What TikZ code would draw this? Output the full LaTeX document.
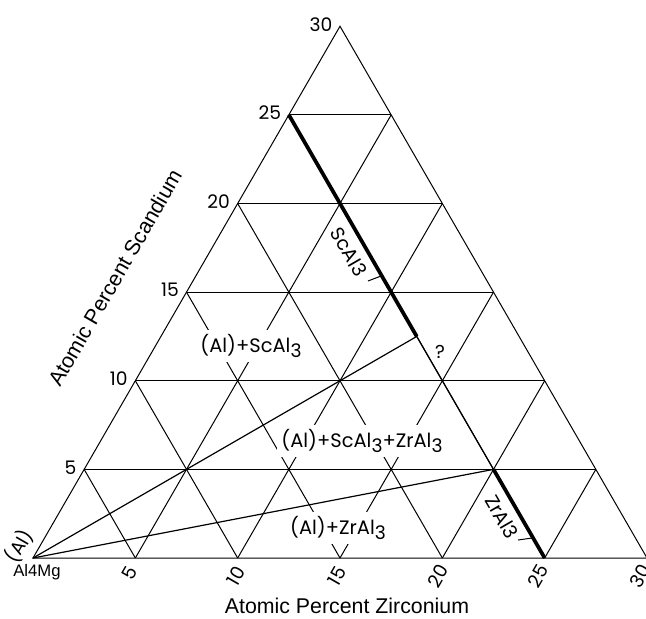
\documentclass[tikz,border=0pt]{standalone}
\usepackage{fontspec}
\setmainfont{Liberation Sans}
\newfontfamily\pop{Poppins}
\newcommand\lowthree[1]{\raisebox{-0.45ex}{\fontsize{14}{14}\selectfont #1}}
\begin{document}
\begin{tikzpicture}[x=0.75pt,y=-0.75pt,
  gridline/.style={line width=0.75pt},
  heavy/.style={line width=2.8pt},
  thinline/.style={line width=0.9pt},
  num/.style={font=\pop\fontsize{14}{16}\selectfont, inner sep=0pt},
  region/.style={font=\pop\fontsize{14.6}{16}\selectfont, fill=white, inner sep=3.5pt},
  phase/.style={font=\pop\fontsize{14.5}{16}\selectfont, inner sep=0pt, rotate=-60},
  axistitle/.style={font=\fontsize{16}{18}\selectfont, inner sep=0pt},
  smalltext/.style={font=\fontsize{12.5}{14}\selectfont, inner sep=0pt}]
\useasboundingbox (0,0) rectangle (646,618);
\begin{scope}[shift={(33,558)}, x={(15.35pt,0pt)}, y={(7.675pt,13.294pt)}]
  \coordinate (O) at (0,0);
  \coordinate (R) at (30,0);
  \coordinate (T) at (0,30);
  \coordinate (S25) at (0,25);
  \coordinate (P) at (12.5,12.5);
  \coordinate (Q) at (20,5);
  \coordinate (Z25) at (25,0);
  \foreach \k in {5,10,15,20,25,30}{
    \coordinate (L\k) at (0,\k);
    \coordinate (B\k) at (\k,0);
  }
  \foreach \k in {5,10,15,20,25}{
    \pgfmathtruncatemacro\m{30-\k}
    \coordinate (H\k) at (\m,\k);
    \coordinate (V\k) at (\k,\m);
    \draw[gridline] (L\k) -- (H\k);
    \draw[gridline] (B\k) -- (V\k);
    \draw[gridline] (B\k) -- (L\k);
  }
  \draw[gridline] (O) -- (R) -- (T) -- cycle;
  \draw[thinline] (O) -- (P);
  \draw[thinline] (O) -- (Q);
  \draw[thinline] (P) -- (Q);
  \draw[heavy] (S25) -- (P);
  \draw[heavy] (Q) -- (Z25);
\end{scope}

% left scale
\foreach \k in {30,25,20,15,10,5}{
  \node[num, anchor=east] (lab\k) at ([xshift=-7.5*0.75pt,yshift=2*0.75pt]L\k) {\k};
}
\node[num, rotate=60] (alcorner) at (19,546) {(Al)};
\node[smalltext] (al4mg) at (37,572) {Al4Mg};

% bottom scale
\node[num, rotate=60] (b5) at (130,573) {5};
\node[num, rotate=60] (b10) at (236,576) {10};
\node[num, rotate=60] (b15) at (337,576) {15};
\node[num, rotate=60] (b20) at (438,576) {20};
\node[num, rotate=60] (b25) at (538,576) {25};
\node[num, rotate=60] (b30) at (640,576) {30};

% titles
\node[axistitle, anchor=base] (zrtitle) at (347,613) {Atomic Percent Zirconium};
\node[axistitle, rotate=60, anchor=base west] (sctitle) at (60,388) {Atomic Percent Scandium};

% region labels
\node[region] (r1) at (251,346) {(Al)+ScAl\lowthree{3}};
\node[region] (r2) at (362,441) {(Al)+ScAl\lowthree{3}+ZrAl\lowthree{3}};
\node[region] (r3) at (338,528) {(Al)+ZrAl\lowthree{3}};
\node[num] (qm) at (440,352) {?};

% phase labels
\node[phase] (scal) at (349,252) {ScAl3};
\node[phase] (zral) at (502,517) {ZrAl3};
\coordinate (t1a) at (368,281);
\coordinate (t1b) at (381,276);
\draw[gridline] (t1a) -- (t1b);
\coordinate (t2a) at (518,540);
\coordinate (t2b) at (532,538);
\draw[gridline] (t2a) -- (t2b);
\end{tikzpicture}
\end{document}
